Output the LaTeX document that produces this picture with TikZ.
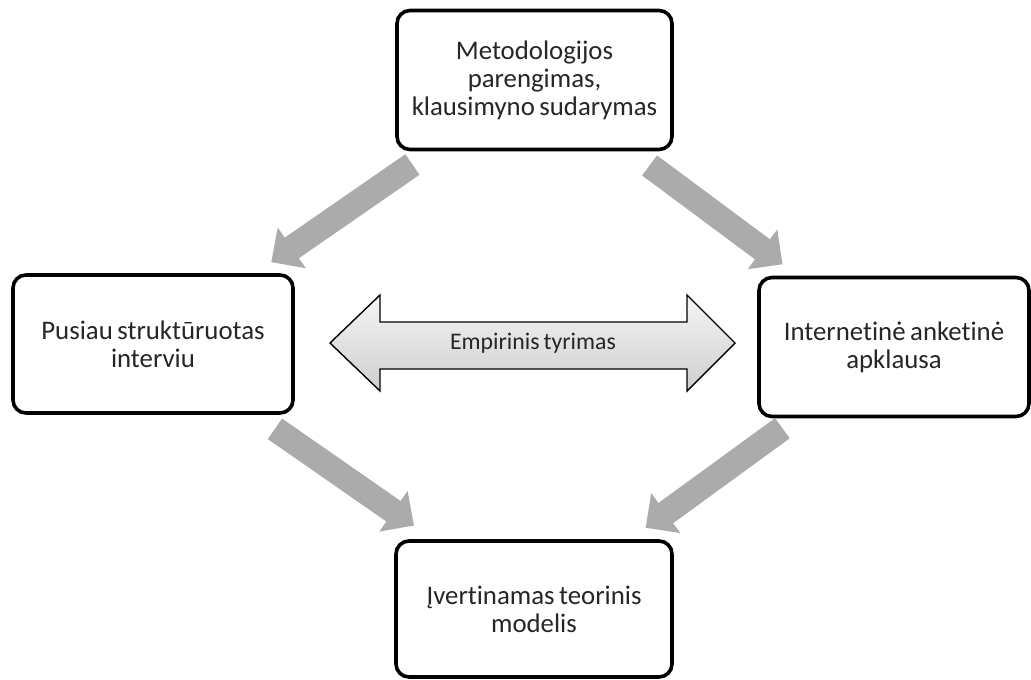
\documentclass[tikz,border=0pt]{standalone}
\usepackage{fontspec}
\setmainfont{Carlito}[Ligatures=NoCommon, WordSpace=0.75]
\usetikzlibrary{arrows.meta,calc}
\definecolor{flowgray}{HTML}{ABABAB}
\definecolor{txt}{HTML}{262626}
\tikzset{
  stagebox/.style={draw=black, line width=3.6pt, rounded corners=13pt, fill=white,
    align=center, text=txt, font=\fontsize{26.8}{28}\selectfont, inner sep=0pt},
  flowarrow/.style={draw=flowgray, line width=25pt,
    -{Triangle[width=48pt,length=25pt]}},
}
\begin{document}
\begin{tikzpicture}[x=1pt,y=-1pt]
\useasboundingbox (0,0) rectangle (1031,680);

% stages
\node[stagebox, minimum width=275pt, minimum height=139pt] (top) at (534.5,80)
  {Metodologijos\\parengimas,\\klausimyno sudarymas};
\node[stagebox, minimum width=280pt, minimum height=138pt] (left) at (153,344)
  {Pusiau struktūruotas\\interviu};
\node[stagebox, minimum width=270pt, minimum height=139pt] (right) at (894,347)
  {Internetinė anketinė\\apklausa};
\node[stagebox, minimum width=276pt, minimum height=136pt] (bottom) at (534,609)
  {Įvertinamas teorinis\\modelis};

% flow between stages
\draw[flowarrow] ($(top)!0.32!(left)$) -- ($(top)!0.69!(left)$);
\draw[flowarrow] ($(top)!0.32!(right)$) -- ($(top)!0.69!(right)$);
\draw[flowarrow] ($(left)!0.32!(bottom)$) -- ($(left)!0.685!(bottom)$);
\draw[flowarrow] ($(right)!0.31!(bottom)$) -- ($(right)!0.69!(bottom)$);

% central double arrow
\coordinate (emp) at (533,343);
\draw[line width=1.4pt, line join=miter, top color=gray!8, bottom color=gray!38]
  (330,343) -- (380,295) -- (380,322) -- (687,322) -- (687,295) -- (735,343)
  -- (687,391) -- (687,369) -- (380,369) -- (380,391) -- cycle;
\node[text=txt, font=\fontsize{23.8}{28}\selectfont] (emplabel) at (emp) {Empirinis tyrimas};
\end{tikzpicture}
\end{document}
